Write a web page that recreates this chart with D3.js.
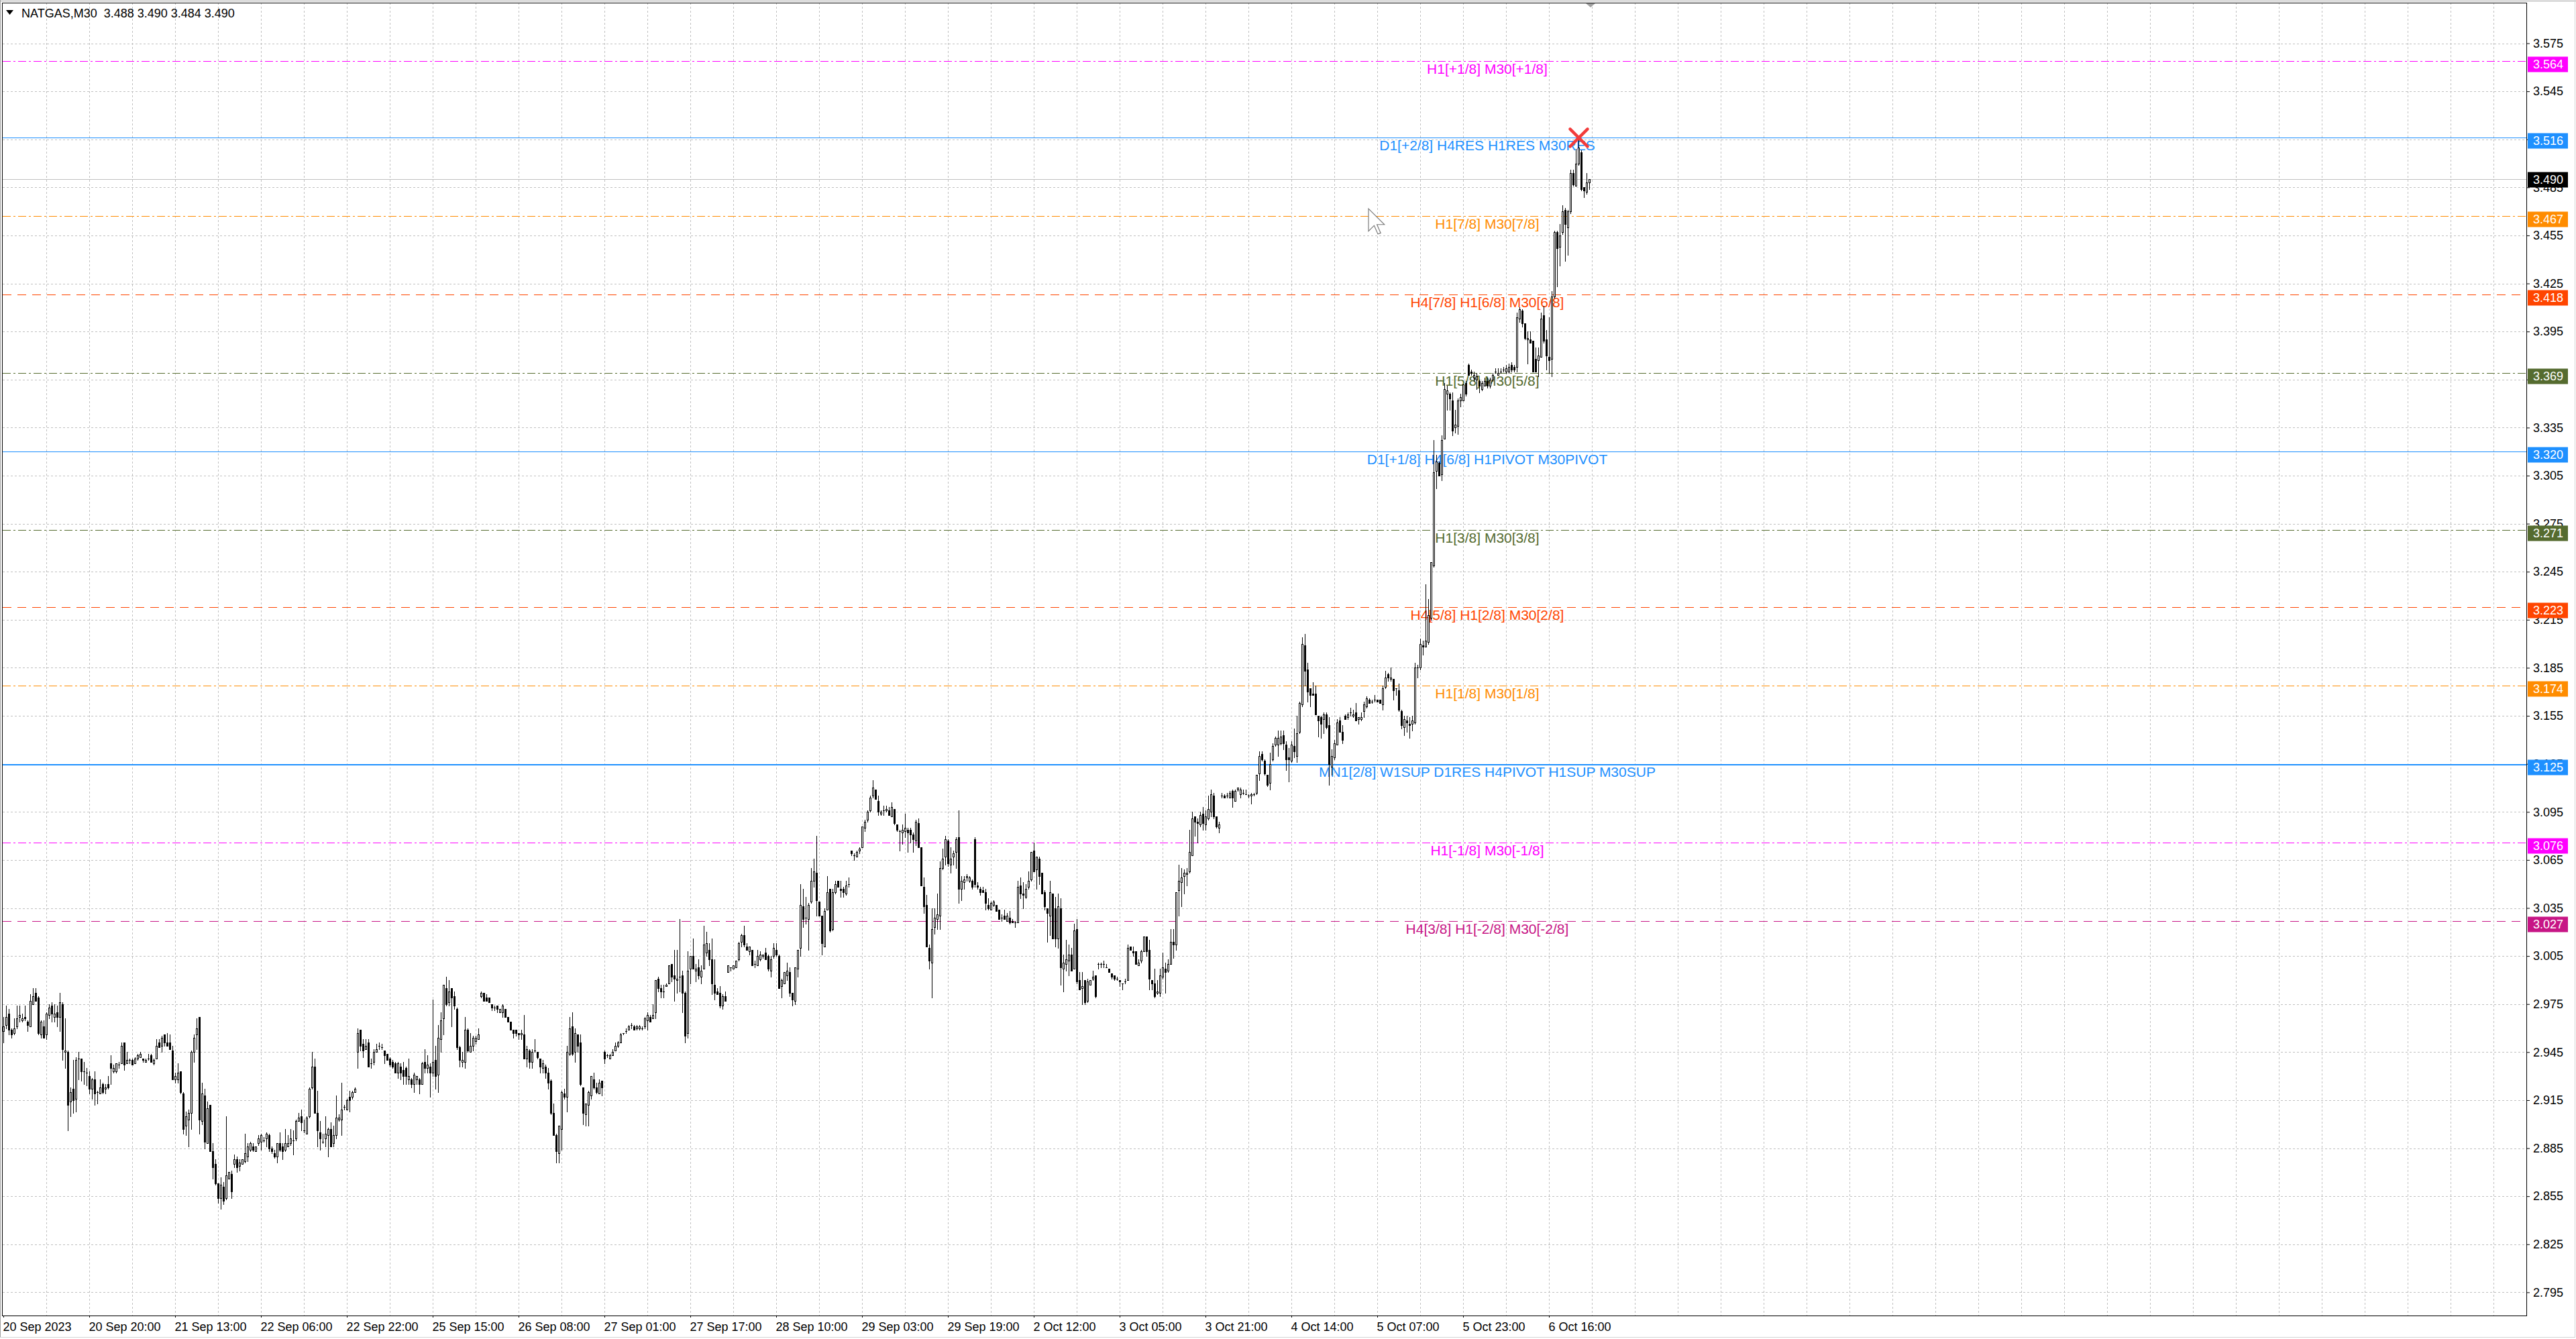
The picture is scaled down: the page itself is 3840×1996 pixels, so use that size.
<!DOCTYPE html>
<html>
<head>
<meta charset="utf-8">
<script src="https://cdn.jsdelivr.net/npm/d3@7"></script>
<style>
  html, body { margin: 0; padding: 0; background: #fff; }
  svg { display: block; }
</style>
</head>
<body>
<div id="chart"></div>
<script>
// NATGAS M30 candles (one value per bar)
const opens = [
2.958,2.962,2.969,2.959,2.957,2.961,2.967,2.965,2.967,2.964,2.961,2.975,2.982,2.979,2.956,2.961,
2.956,2.968,2.974,2.967,2.970,2.967,2.975,2.945,2.945,2.914,2.922,2.916,2.941,2.941,2.933,2.932,
2.930,2.922,2.928,2.920,2.919,2.925,2.922,2.925,2.938,2.933,2.933,2.937,2.938,2.951,2.938,2.940,
2.940,2.938,2.941,2.942,2.941,2.939,2.941,2.943,2.938,2.941,2.951,2.949,2.956,2.951,2.951,2.946,
2.928,2.928,2.933,2.919,2.899,2.903,2.907,2.945,2.956,2.967,2.902,2.918,2.888,2.912,2.883,2.875,
2.863,2.854,2.861,2.854,2.866,2.869,2.875,2.878,2.874,2.875,2.877,2.880,2.884,2.886,2.883,2.888,
2.889,2.890,2.891,2.893,2.885,2.882,2.880,2.888,2.886,2.884,2.886,2.888,2.890,2.891,2.902,2.905,
2.896,2.894,2.905,2.923,2.936,2.907,2.895,2.889,2.891,2.893,2.897,2.888,2.893,2.903,2.903,2.911,
2.909,2.917,2.917,2.920,2.945,2.959,2.950,2.947,2.951,2.938,2.939,2.945,2.949,2.948,2.946,2.944,
2.941,2.939,2.938,2.932,2.936,2.934,2.935,2.928,2.928,2.925,2.928,2.928,2.925,2.939,2.935,2.936,
2.932,2.940,2.931,2.953,2.966,2.985,2.976,2.985,2.980,2.972,2.948,2.939,2.939,2.959,2.945,2.949,
2.952,2.953,2.980,2.982,2.979,2.979,2.975,2.973,2.974,2.970,2.970,2.972,2.967,2.964,2.959,2.959,
2.957,2.956,2.956,2.941,2.946,2.939,2.946,2.945,2.941,2.935,2.936,2.932,2.927,2.907,2.893,2.882,
2.897,2.919,2.917,2.944,2.961,2.945,2.956,2.951,2.923,2.906,2.912,2.918,2.928,2.923,2.919,2.927,
2.945,2.943,2.941,2.943,2.946,2.949,2.951,2.957,2.958,2.959,2.962,2.961,2.960,2.960,2.960,2.961,
2.965,2.967,2.966,2.970,2.991,2.985,2.983,2.986,2.988,3.000,2.993,2.990,2.992,2.993,2.982,2.957,
2.997,3.005,2.996,2.998,2.992,2.997,3.007,3.009,3.003,2.987,2.983,2.982,2.974,2.980,2.995,2.998,
2.997,2.998,3.003,3.014,3.018,3.011,3.008,3.009,3.000,2.999,3.003,3.005,3.007,3.005,2.996,3.005,
3.009,3.005,2.986,2.988,2.993,2.995,2.982,2.977,2.997,3.010,3.036,3.029,3.028,3.039,3.052,3.057,
3.039,3.030,3.011,3.034,3.047,3.022,3.045,3.052,3.047,3.047,3.044,3.050,3.071,3.068,3.067,3.071,
3.073,3.085,3.090,3.096,3.105,3.109,3.102,3.094,3.096,3.096,3.096,3.092,3.097,3.087,3.083,3.082,
3.083,3.084,3.084,3.081,3.077,3.088,3.073,3.048,3.037,3.010,3.001,3.023,3.028,3.030,3.060,3.067,
3.077,3.062,3.067,3.070,3.079,3.047,3.051,3.054,3.052,3.052,3.078,3.049,3.047,3.046,3.045,3.037,
3.034,3.037,3.037,3.034,3.029,3.030,3.027,3.029,3.027,3.026,3.026,3.049,3.044,3.042,3.048,3.053,
3.071,3.059,3.066,3.057,3.045,3.035,3.030,3.044,3.035,3.016,3.035,2.997,3.000,3.002,3.006,2.997,
3.022,2.990,2.985,2.990,2.977,2.987,2.991,2.993,3.000,3.000,3.000,2.998,2.997,2.994,2.993,2.991,
2.990,2.988,2.989,2.990,3.011,3.008,3.008,2.999,3.002,3.008,3.017,3.009,2.990,2.988,2.982,2.982,
2.992,2.997,2.996,3.000,3.014,3.012,3.046,3.051,3.055,3.056,3.058,3.068,3.092,3.089,3.087,3.094,
3.087,3.091,3.095,3.105,3.092,3.085,3.105,3.105,3.105,3.104,3.108,3.102,3.109,3.106,3.107,3.106,
3.105,3.105,3.106,3.107,3.119,3.131,3.127,3.118,3.113,3.128,3.137,3.137,3.138,3.143,3.137,3.129,
3.127,3.136,3.130,3.145,3.162,3.199,3.184,3.172,3.169,3.169,3.155,3.154,3.153,3.156,3.149,3.123,
3.129,3.137,3.152,3.145,3.155,3.154,3.157,3.155,3.157,3.153,3.153,3.158,3.161,3.165,3.164,3.165,
3.165,3.165,3.162,3.173,3.181,3.178,3.178,3.172,3.171,3.158,3.148,3.152,3.150,3.150,3.151,3.185,
3.185,3.199,3.198,3.201,3.216,3.249,3.308,3.313,3.306,3.328,3.356,3.356,3.352,3.335,3.336,3.352,
3.352,3.363,3.374,3.370,3.366,3.365,3.364,3.359,3.361,3.364,3.361,3.365,3.370,3.368,3.370,3.371,
3.370,3.370,3.374,3.373,3.373,3.403,3.408,3.400,3.390,3.390,3.389,3.378,3.377,3.379,3.405,3.390,
3.379,3.378,3.417,3.457,3.448,3.457,3.471,3.460,3.470,3.494,3.486,3.500,3.507,3.485,3.482,3.488
];
const highs = [
2.967,2.974,2.972,2.960,2.966,2.974,2.974,2.969,2.974,2.965,2.981,2.985,2.985,2.980,2.965,2.965,
2.970,2.975,2.976,2.975,2.974,2.982,2.976,2.966,2.946,2.923,2.940,2.942,2.945,2.941,2.939,2.935,
2.933,2.929,2.933,2.921,2.928,2.926,2.925,2.930,2.943,2.937,2.938,2.939,2.951,2.951,2.945,2.941,
2.941,2.942,2.944,2.945,2.941,2.941,2.944,2.944,2.941,2.953,2.953,2.955,2.956,2.957,2.956,2.949,
2.932,2.938,2.933,2.920,2.908,2.909,2.946,2.956,2.966,2.967,2.926,2.922,2.914,2.912,2.888,2.878,
2.863,2.867,2.864,2.905,2.870,2.871,2.881,2.880,2.878,2.878,2.894,2.888,2.889,2.888,2.886,2.893,
2.894,2.892,2.895,2.894,2.886,2.884,2.888,2.895,2.888,2.897,2.893,2.897,2.896,2.903,2.907,2.909,
2.903,2.905,2.923,2.945,2.941,2.921,2.902,2.894,2.905,2.898,2.901,2.899,2.918,2.906,2.926,2.912,
2.916,2.921,2.921,2.923,2.960,2.959,2.953,2.953,2.953,2.941,2.947,2.950,2.951,2.950,2.946,2.944,
2.942,2.940,2.939,2.939,2.938,2.939,2.936,2.941,2.929,2.932,2.930,2.929,2.939,2.947,2.943,2.938,
2.978,2.949,2.962,2.970,2.987,2.992,2.990,2.985,2.983,2.973,2.949,2.945,2.967,2.960,2.957,2.955,
2.955,2.960,2.983,2.982,2.981,2.979,2.975,2.974,2.974,2.972,2.975,2.972,2.967,2.964,2.959,2.959,
2.957,2.959,2.968,2.949,2.947,2.947,2.953,2.945,2.941,2.940,2.937,2.935,2.928,2.913,2.894,2.899,
2.921,2.922,2.949,2.967,2.970,2.960,2.956,2.956,2.923,2.913,2.921,2.930,2.932,2.926,2.928,2.927,
2.946,2.944,2.944,2.947,2.951,2.952,2.957,2.957,2.960,2.962,2.963,2.962,2.962,2.962,2.961,2.967,
2.970,2.968,2.975,2.990,2.992,2.987,2.987,2.988,2.999,3.000,3.009,3.009,3.028,2.996,2.983,3.008,
3.005,3.016,3.000,3.003,2.999,3.024,3.020,3.013,3.016,3.003,2.985,2.986,2.981,2.983,2.999,2.998,
2.999,3.002,3.014,3.019,3.024,3.013,3.011,3.009,3.002,3.009,3.008,3.006,3.010,3.006,3.005,3.013,
3.013,3.006,2.991,2.995,3.001,2.998,2.982,2.998,3.009,3.050,3.047,3.042,3.038,3.060,3.066,3.080,
3.039,3.030,3.035,3.055,3.047,3.047,3.052,3.052,3.052,3.048,3.052,3.054,3.071,3.069,3.071,3.073,
3.086,3.090,3.096,3.105,3.115,3.109,3.105,3.096,3.099,3.099,3.098,3.101,3.097,3.087,3.084,3.087,
3.094,3.085,3.085,3.082,3.090,3.091,3.073,3.054,3.043,3.012,3.035,3.035,3.044,3.064,3.072,3.080,
3.078,3.073,3.071,3.079,3.096,3.055,3.055,3.056,3.055,3.053,3.079,3.051,3.048,3.048,3.047,3.041,
3.039,3.040,3.037,3.034,3.031,3.034,3.032,3.033,3.028,3.027,3.052,3.054,3.051,3.050,3.058,3.070,
3.076,3.067,3.067,3.057,3.046,3.035,3.052,3.044,3.042,3.044,3.041,3.006,3.015,3.012,3.010,3.025,
3.028,2.995,2.995,2.990,2.991,2.990,2.996,2.993,3.001,3.001,3.002,3.000,2.997,2.994,2.993,2.992,
2.990,2.988,2.991,3.012,3.011,3.011,3.008,3.003,3.009,3.017,3.017,3.015,2.990,2.997,2.990,2.997,
3.007,3.001,3.003,3.022,3.022,3.045,3.062,3.060,3.059,3.060,3.084,3.095,3.092,3.091,3.095,3.098,
3.096,3.105,3.109,3.107,3.092,3.089,3.107,3.106,3.107,3.108,3.109,3.109,3.110,3.110,3.109,3.109,
3.106,3.107,3.107,3.118,3.133,3.133,3.128,3.118,3.132,3.138,3.142,3.146,3.146,3.146,3.139,3.135,
3.139,3.147,3.155,3.164,3.204,3.206,3.188,3.172,3.176,3.174,3.155,3.155,3.157,3.157,3.154,3.134,
3.140,3.153,3.154,3.149,3.156,3.157,3.160,3.159,3.163,3.154,3.157,3.164,3.167,3.166,3.165,3.168,
3.165,3.165,3.174,3.183,3.182,3.185,3.178,3.172,3.175,3.159,3.155,3.155,3.154,3.155,3.188,3.187,
3.203,3.202,3.237,3.228,3.251,3.327,3.318,3.314,3.330,3.363,3.361,3.357,3.357,3.346,3.353,3.356,
3.362,3.364,3.375,3.371,3.370,3.369,3.365,3.364,3.366,3.366,3.366,3.369,3.372,3.372,3.372,3.373,
3.374,3.375,3.376,3.374,3.407,3.410,3.409,3.400,3.395,3.395,3.389,3.385,3.385,3.407,3.411,3.396,
3.404,3.420,3.458,3.458,3.462,3.474,3.472,3.471,3.496,3.496,3.509,3.516,3.508,3.485,3.494,3.490
];
const lows = [
2.951,2.960,2.956,2.954,2.956,2.960,2.964,2.964,2.965,2.958,2.961,2.975,2.977,2.956,2.954,2.954,
2.953,2.966,2.964,2.964,2.961,2.958,2.940,2.935,2.896,2.905,2.907,2.908,2.928,2.927,2.925,2.924,
2.919,2.916,2.912,2.913,2.919,2.919,2.919,2.922,2.925,2.932,2.932,2.935,2.938,2.934,2.938,2.938,
2.937,2.938,2.940,2.942,2.939,2.939,2.940,2.939,2.937,2.941,2.948,2.945,2.949,2.949,2.947,2.928,
2.926,2.926,2.919,2.894,2.893,2.886,2.897,2.939,2.947,2.894,2.900,2.885,2.888,2.883,2.866,2.862,
2.851,2.847,2.850,2.853,2.866,2.854,2.873,2.870,2.871,2.875,2.876,2.877,2.883,2.883,2.883,2.887,
2.884,2.889,2.886,2.883,2.882,2.879,2.876,2.883,2.878,2.883,2.886,2.887,2.881,2.890,2.902,2.896,
2.895,2.894,2.904,2.922,2.907,2.886,2.884,2.888,2.886,2.880,2.886,2.886,2.891,2.902,2.893,2.909,
2.909,2.908,2.916,2.920,2.935,2.946,2.942,2.947,2.936,2.935,2.937,2.945,2.947,2.947,2.938,2.940,
2.936,2.935,2.932,2.929,2.928,2.925,2.925,2.925,2.923,2.920,2.925,2.919,2.925,2.932,2.932,2.917,
2.930,2.922,2.920,2.945,2.956,2.974,2.974,2.961,2.972,2.947,2.936,2.936,2.935,2.945,2.945,2.946,
2.950,2.953,2.979,2.977,2.977,2.976,2.971,2.971,2.970,2.970,2.967,2.967,2.964,2.959,2.954,2.955,
2.953,2.953,2.941,2.936,2.935,2.935,2.945,2.941,2.932,2.932,2.929,2.922,2.906,2.893,2.876,2.876,
2.884,2.916,2.908,2.943,2.943,2.939,2.945,2.924,2.900,2.899,2.899,2.916,2.922,2.919,2.919,2.918,
2.938,2.942,2.941,2.943,2.946,2.948,2.951,2.956,2.957,2.959,2.960,2.959,2.959,2.959,2.959,2.960,
2.959,2.964,2.966,2.966,2.983,2.979,2.979,2.986,2.988,2.989,2.977,2.982,2.983,2.970,2.951,2.954,
2.988,2.997,2.989,2.991,2.988,2.997,3.005,2.999,2.981,2.978,2.981,2.973,2.972,2.977,2.995,2.996,
2.997,2.998,3.002,3.011,3.011,3.009,3.006,2.999,2.998,2.999,3.002,3.004,3.003,2.996,2.992,3.004,
3.005,2.985,2.979,2.988,2.990,2.980,2.974,2.975,2.992,3.005,3.023,3.025,3.009,3.038,3.048,3.030,
3.030,3.006,3.011,3.034,3.020,3.021,3.044,3.048,3.042,3.042,3.043,3.048,3.068,3.065,3.067,3.069,
3.073,3.083,3.089,3.095,3.104,3.103,3.093,3.093,3.093,3.095,3.093,3.092,3.087,3.083,3.071,3.075,
3.079,3.070,3.076,3.070,3.074,3.073,3.049,3.032,3.011,2.997,2.979,3.019,3.022,3.022,3.059,3.062,
3.061,3.057,3.062,3.060,3.038,3.040,3.047,3.052,3.051,3.047,3.048,3.047,3.043,3.045,3.034,3.034,
3.034,3.036,3.033,3.028,3.027,3.028,3.027,3.025,3.026,3.023,3.026,3.041,3.035,3.041,3.047,3.052,
3.058,3.047,3.050,3.044,3.034,3.014,3.018,3.016,3.011,3.010,2.987,2.983,2.996,2.993,2.996,2.997,
2.988,2.984,2.975,2.975,2.976,2.987,2.990,2.979,2.997,2.998,2.998,2.998,2.995,2.991,2.990,2.990,
2.986,2.984,2.988,2.990,3.009,3.005,3.000,2.999,3.001,3.008,3.005,2.984,2.984,2.979,2.981,2.980,
2.991,2.982,2.995,3.000,3.004,3.009,3.030,3.036,3.044,3.049,3.057,3.068,3.080,3.076,3.086,3.084,
3.084,3.090,3.092,3.091,3.085,3.082,3.104,3.104,3.104,3.104,3.098,3.102,3.108,3.104,3.106,3.106,
3.104,3.100,3.105,3.106,3.115,3.127,3.118,3.111,3.109,3.127,3.136,3.130,3.137,3.134,3.121,3.114,
3.126,3.129,3.126,3.144,3.161,3.174,3.164,3.161,3.168,3.156,3.142,3.141,3.144,3.147,3.112,3.118,
3.128,3.137,3.145,3.138,3.153,3.153,3.155,3.154,3.152,3.150,3.152,3.154,3.160,3.163,3.163,3.164,
3.164,3.163,3.159,3.172,3.177,3.177,3.165,3.168,3.158,3.147,3.143,3.145,3.141,3.146,3.150,3.179,
3.184,3.193,3.198,3.200,3.215,3.248,3.297,3.305,3.302,3.328,3.346,3.346,3.330,3.332,3.331,3.348,
3.352,3.355,3.368,3.368,3.364,3.359,3.357,3.358,3.361,3.360,3.360,3.364,3.369,3.368,3.369,3.370,
3.369,3.369,3.370,3.370,3.370,3.401,3.398,3.390,3.375,3.388,3.370,3.370,3.367,3.379,3.388,3.371,
3.369,3.367,3.416,3.423,3.436,3.456,3.439,3.443,3.469,3.486,3.486,3.499,3.483,3.479,3.481,3.484
];
const closes = [
2.961,2.967,2.959,2.956,2.960,2.966,2.968,2.966,2.966,2.962,2.977,2.980,2.977,2.957,2.964,2.954,
2.969,2.973,2.969,2.969,2.967,2.976,2.947,2.946,2.912,2.920,2.915,2.940,2.941,2.933,2.933,2.932,
2.922,2.928,2.919,2.920,2.923,2.920,2.923,2.923,2.935,2.935,2.938,2.937,2.949,2.937,2.940,2.940,
2.937,2.941,2.943,2.944,2.940,2.940,2.941,2.939,2.940,2.949,2.948,2.954,2.951,2.949,2.947,2.928,
2.930,2.932,2.920,2.897,2.905,2.907,2.945,2.954,2.960,2.903,2.919,2.889,2.910,2.883,2.873,2.863,
2.854,2.862,2.852,2.868,2.870,2.858,2.878,2.873,2.876,2.878,2.882,2.886,2.888,2.884,2.886,2.891,
2.893,2.890,2.894,2.885,2.883,2.880,2.888,2.884,2.883,2.888,2.888,2.891,2.890,2.902,2.904,2.901,
2.896,2.904,2.922,2.936,2.907,2.896,2.891,2.889,2.894,2.897,2.886,2.893,2.904,2.904,2.909,2.911,
2.915,2.915,2.920,2.922,2.957,2.949,2.946,2.949,2.936,2.938,2.945,2.947,2.949,2.948,2.943,2.940,
2.937,2.936,2.932,2.938,2.932,2.930,2.930,2.930,2.925,2.931,2.930,2.925,2.938,2.935,2.937,2.932,
2.939,2.930,2.954,2.965,2.987,2.975,2.983,2.979,2.974,2.948,2.940,2.940,2.959,2.946,2.949,2.954,
2.954,2.956,2.982,2.977,2.977,2.976,2.973,2.973,2.972,2.972,2.974,2.967,2.964,2.959,2.957,2.957,
2.956,2.957,2.941,2.947,2.939,2.945,2.946,2.942,2.936,2.938,2.932,2.926,2.907,2.893,2.883,2.899,
2.920,2.917,2.945,2.960,2.944,2.957,2.949,2.925,2.907,2.913,2.920,2.930,2.923,2.920,2.926,2.923,
2.941,2.943,2.943,2.945,2.949,2.951,2.956,2.957,2.958,2.961,2.962,2.959,2.961,2.961,2.960,2.966,
2.968,2.964,2.968,2.990,2.985,2.983,2.983,2.987,2.999,2.992,2.991,2.991,2.992,2.982,2.955,2.996,
3.005,2.997,2.997,2.993,2.996,3.012,3.013,3.003,2.988,2.982,2.981,2.974,2.980,2.977,2.999,2.998,
2.999,3.002,3.013,3.018,3.012,3.009,3.011,2.999,3.000,3.005,3.006,3.006,3.003,2.997,3.003,3.010,
3.006,2.985,2.990,2.995,2.996,2.982,2.978,2.998,3.009,3.037,3.028,3.029,3.037,3.052,3.058,3.040,
3.030,3.013,3.033,3.045,3.021,3.045,3.050,3.048,3.046,3.045,3.049,3.050,3.069,3.068,3.070,3.072,
3.086,3.089,3.095,3.104,3.110,3.103,3.095,3.095,3.096,3.097,3.093,3.098,3.088,3.084,3.083,3.084,
3.085,3.082,3.081,3.078,3.089,3.073,3.049,3.036,3.011,3.002,3.022,3.029,3.031,3.060,3.066,3.078,
3.063,3.066,3.069,3.078,3.047,3.052,3.053,3.055,3.054,3.048,3.050,3.048,3.045,3.045,3.038,3.035,
3.038,3.039,3.033,3.028,3.029,3.028,3.030,3.026,3.026,3.026,3.048,3.044,3.043,3.047,3.052,3.070,
3.058,3.067,3.055,3.044,3.036,3.032,3.045,3.016,3.016,3.036,2.998,3.001,3.003,3.006,2.996,3.021,
2.989,2.984,2.986,2.976,2.989,2.990,2.992,2.980,3.000,3.000,3.000,2.998,2.995,2.992,2.991,2.991,
2.989,2.988,2.989,3.010,3.009,3.007,3.000,3.001,3.008,3.017,3.008,2.991,2.988,2.980,2.983,2.993,
2.998,2.995,3.000,3.014,3.012,3.045,3.052,3.054,3.057,3.057,3.070,3.091,3.089,3.088,3.093,3.088,
3.092,3.097,3.106,3.092,3.086,3.087,3.105,3.104,3.105,3.107,3.104,3.108,3.110,3.109,3.107,3.106,
3.105,3.106,3.106,3.118,3.130,3.128,3.119,3.112,3.125,3.136,3.141,3.141,3.142,3.138,3.128,3.128,
3.137,3.133,3.144,3.163,3.200,3.183,3.170,3.168,3.168,3.156,3.152,3.150,3.156,3.148,3.125,3.130,
3.138,3.151,3.145,3.140,3.153,3.156,3.157,3.156,3.152,3.154,3.154,3.162,3.166,3.163,3.164,3.165,
3.164,3.163,3.172,3.179,3.179,3.179,3.171,3.172,3.159,3.149,3.153,3.151,3.149,3.152,3.185,3.185,
3.200,3.198,3.202,3.218,3.251,3.307,3.314,3.305,3.327,3.359,3.358,3.353,3.333,3.337,3.352,3.354,
3.362,3.356,3.368,3.369,3.368,3.367,3.361,3.363,3.364,3.361,3.365,3.368,3.370,3.369,3.370,3.371,
3.372,3.373,3.371,3.371,3.404,3.409,3.400,3.391,3.391,3.388,3.370,3.370,3.380,3.403,3.389,3.380,
3.377,3.417,3.457,3.447,3.455,3.470,3.462,3.470,3.494,3.487,3.500,3.510,3.484,3.483,3.488,3.490
];

// horizontal level lines and their texts
const levelPrices = [3.564, 3.516, 3.467, 3.418, 3.369, 3.320, 3.271, 3.223, 3.174, 3.125, 3.076, 3.027];
const levelLabels = [
  "H1[+1/8] M30[+1/8]",
  "D1[+2/8] H4RES H1RES M30RES",
  "H1[7/8] M30[7/8]",
  "H4[7/8] H1[6/8] M30[6/8]",
  "H1[5/8] M30[5/8]",
  "D1[+1/8] H4[6/8] H1PIVOT M30PIVOT",
  "H1[3/8] M30[3/8]",
  "H4[5/8] H1[2/8] M30[2/8]",
  "H1[1/8] M30[1/8]",
  "MN1[2/8] W1SUP D1RES H4PIVOT H1SUP M30SUP",
  "H1[-1/8] M30[-1/8]",
  "H4[3/8] H1[-2/8] M30[-2/8]"
];
const lastPrice = 3.490;
const headerText = "NATGAS,M30  3.488 3.490 3.484 3.490";

const priceTicks = [2.795, 2.825, 2.855, 2.885, 2.915, 2.945, 2.975, 3.005, 3.035, 3.065, 3.095,
  3.125, 3.155, 3.185, 3.215, 3.245, 3.275, 3.305, 3.335, 3.365, 3.395, 3.425, 3.455, 3.485,
  3.515, 3.545, 3.575];
const timeLabels = ["20 Sep 2023", "20 Sep 20:00", "21 Sep 13:00", "22 Sep 06:00", "22 Sep 22:00",
  "25 Sep 15:00", "26 Sep 08:00", "27 Sep 01:00", "27 Sep 17:00", "28 Sep 10:00", "29 Sep 03:00",
  "29 Sep 19:00", "2 Oct 12:00", "3 Oct 05:00", "3 Oct 21:00", "4 Oct 14:00", "5 Oct 07:00",
  "5 Oct 23:00", "6 Oct 16:00"];

// styles for the levels (same order as levelPrices)
const DASHDOT = "12,4,3,4", DASHED = "13,9";
const levelColors = ["#ff00ff", "#1e90ff", "#ff8c00", "#ff4500", "#556b2f", "#1e90ff",
  "#556b2f", "#ff4500", "#ff8c00", "#1e90ff", "#ff00ff", "#c71585"];
const levelDash = [DASHDOT, null, DASHDOT, DASHED, DASHDOT, null, DASHDOT, DASHED, DASHDOT, null, DASHDOT, DASHED];
const levelWidth = [1, 1, 1, 1, 1, 1, 1, 1, 1, 2, 1, 1];

function drawChart(width, height, selector) {

  const FONT = "'Liberation Sans', Arial, sans-serif";
  const plot = { left: 4, right: 3766, top: 4, bottom: 1961 };
  const barsPerLabel = 32, barsPerGrid = 16;

  // 4 px per bar, first bar at x=5
  const x = d3.scaleLinear().domain([0, 940]).range([5, 3765]);
  const y = d3.scaleLinear().domain([2.795, 3.575]).range([1926.4, 64.5]);
  const py = v => Math.round(y(v)) + 0.5;

  const svg = d3.select(selector)
    .append("svg")
    .attr("width", width)
    .attr("height", height)
    .style("font-family", FONT);

  svg.append("rect").attr("width", width).attr("height", height).attr("fill", "#fff");

  // window frame
  svg.append("line").attr("x1", 0).attr("x2", width).attr("y1", 1.5).attr("y2", 1.5)
    .attr("stroke", "#a0a0a0");
  svg.append("line").attr("x1", 0.5).attr("x2", 0.5).attr("y1", 0).attr("y2", 1994)
    .attr("stroke", "#a0a0a0");
  svg.append("line").attr("x1", 0).attr("x2", 3838).attr("y1", 1993.5).attr("y2", 1993.5)
    .attr("stroke", "#d4d4d4");
  svg.append("line").attr("x1", 3838.5).attr("x2", 3838.5).attr("y1", 0).attr("y2", 1994)
    .attr("stroke", "#d4d4d4");

  ///////////////
  //// Grid ////
  ///////////////
  const grid = svg.append("g").attr("shape-rendering", "crispEdges")
    .attr("stroke", "#c0c0c0").attr("stroke-dasharray", "3,3");

  grid.selectAll("line.h").data(priceTicks).join("line")
    .attr("class", "h")
    .attr("x1", plot.left).attr("x2", plot.right)
    .attr("y1", d => py(d)).attr("y2", d => py(d));

  const gridBars = d3.range(barsPerGrid, 940, barsPerGrid);
  grid.selectAll("line.v").data(gridBars).join("line")
    .attr("class", "v")
    .attr("x1", d => x(d) + 0.5).attr("x2", d => x(d) + 0.5)
    .attr("y1", plot.top).attr("y2", plot.bottom);

  //////////////////////
  //// Level lines ////
  //////////////////////
  const levels = levelPrices.map((p, k) => ({
    p, label: levelLabels[k], color: levelColors[k], dash: levelDash[k], w: levelWidth[k]
  }));

  const lv = svg.append("g");
  lv.selectAll("line").data(levels).join("line")
    .attr("shape-rendering", "crispEdges")
    .attr("x1", plot.left).attr("x2", plot.right)
    .attr("y1", d => py(d.p)).attr("y2", d => py(d.p))
    .attr("stroke", d => d.color)
    .attr("stroke-width", d => d.w)
    .attr("stroke-dasharray", d => d.dash);

  lv.selectAll("text").data(levels).join("text")
    .attr("x", 2217)
    .attr("y", d => py(d.p) + 18.5)
    .attr("text-anchor", "middle")
    .attr("font-size", 21)
    .attr("fill", d => d.color)
    .text(d => d.label);

  // bid line
  svg.append("line").attr("shape-rendering", "crispEdges")
    .attr("x1", plot.left).attr("x2", plot.right)
    .attr("y1", py(lastPrice)).attr("y2", py(lastPrice))
    .attr("stroke", "#c0c0c0");

  //////////////////
  //// Candles ////
  //////////////////
  const candles = opens.map((o, i) => ({ i, o, h: highs[i], l: lows[i], c: closes[i] }));
  const cg = svg.append("g").attr("shape-rendering", "crispEdges");

  cg.selectAll("line").data(candles).join("line")
    .attr("x1", d => x(d.i) + 0.5).attr("x2", d => x(d.i) + 0.5)
    .attr("y1", d => Math.round(y(d.h))).attr("y2", d => Math.round(y(d.l)) + 1)
    .attr("stroke", "#000");

  cg.selectAll("rect").data(candles).join("rect")
    .attr("x", d => x(d.i) - 0.5)
    .attr("width", 2)
    .attr("y", d => py(Math.max(d.o, d.c)))
    .attr("height", d => Math.max(0.01, Math.round(y(Math.min(d.o, d.c))) - Math.round(y(Math.max(d.o, d.c)))))
    .attr("fill", d => d.c >= d.o ? "#fff" : "#000")
    .attr("stroke", "#000");

  // plot frame
  svg.append("rect").attr("shape-rendering", "crispEdges")
    .attr("x", plot.left - 0.5).attr("y", plot.top + 0.5)
    .attr("width", plot.right - plot.left + 1).attr("height", plot.bottom - plot.top)
    .attr("fill", "none").attr("stroke", "#000");

  ///////////////
  //// Axes ////
  ///////////////
  const yAxis = d3.axisRight(y).tickValues(priceTicks).tickSize(5).tickPadding(5)
    .tickFormat(d3.format(".3f"));
  svg.append("g")
    .attr("transform", `translate(${plot.right},0)`)
    .call(yAxis)
    .attr("font-size", 18).attr("font-family", FONT)
    .call(g => g.select(".domain").remove())
    .call(g => g.selectAll("line").attr("stroke", "#000"))
    .call(g => g.selectAll("text").attr("fill", "#000"));

  const labelBars = timeLabels.map((_, k) => k * barsPerLabel);
  const xAxis = d3.axisBottom(x).tickValues(labelBars).tickSize(3).tickPadding(7)
    .tickFormat((d, k) => timeLabels[k]);
  svg.append("g")
    .attr("transform", `translate(0,${plot.bottom})`)
    .call(xAxis)
    .attr("font-size", 18).attr("font-family", FONT)
    .call(g => g.select(".domain").remove())
    .call(g => g.selectAll("line").attr("stroke", "#000"))
    .call(g => g.selectAll("text").attr("text-anchor", "start").attr("x", -1).attr("fill", "#000"));

  // price tags on the right scale (level tags sit a few px under their line)
  const tags = levels.map(d => ({ p: d.p, color: d.color, shift: 5 }))
    .concat([{ p: lastPrice, color: "#000", shift: 1 }]);
  const tg = svg.append("g").selectAll("g").data(tags).join("g")
    .attr("transform", d => `translate(3768,${Math.round(y(d.p)) + d.shift})`);
  tg.append("rect").attr("x", 0).attr("y", -11.5).attr("width", 60).attr("height", 23)
    .attr("fill", d => d.color);
  tg.append("text").attr("x", 8).attr("y", 0).attr("dy", "0.35em")
    .attr("font-size", 18).attr("fill", "#fff")
    .text(d => d3.format(".3f")(d.p));

  // header
  svg.append("path").attr("d", "M9,15 L20,15 L14.5,22 Z").attr("fill", "#000");
  svg.append("text").attr("x", 32).attr("y", 26).attr("font-size", 18)
    .attr("fill", "#000").style("white-space", "pre").text(headerText);

  // chart shift marker
  svg.append("path").attr("d", "M2364,5 L2378,5 L2371,11 Z").attr("fill", "#a0a0a0");

  // red cross on the high
  const hx = x(587) + 0.5, hy = y(d3.max(highs));
  svg.append("g").attr("stroke", "#f23c3c").attr("stroke-width", 4.5).attr("stroke-linecap", "round")
    .selectAll("line").data([[-13, -13, 13, 13], [13, -13, -13, 13]]).join("line")
    .attr("x1", d => hx + d[0]).attr("y1", d => hy + d[1])
    .attr("x2", d => hx + d[2]).attr("y2", d => hy + d[3]);

  // mouse pointer
  svg.append("path")
    .attr("transform", "translate(2040,311) scale(1.4)")
    .attr("d", "M0,0 L0,24 L6,18 L10,27 L13,26 L9,17 L17,17 Z")
    .attr("fill", "#fff").attr("stroke", "#777").attr("stroke-width", 0.8);
}

drawChart(3840, 1996, "#chart");
</script>
</body>
</html>
